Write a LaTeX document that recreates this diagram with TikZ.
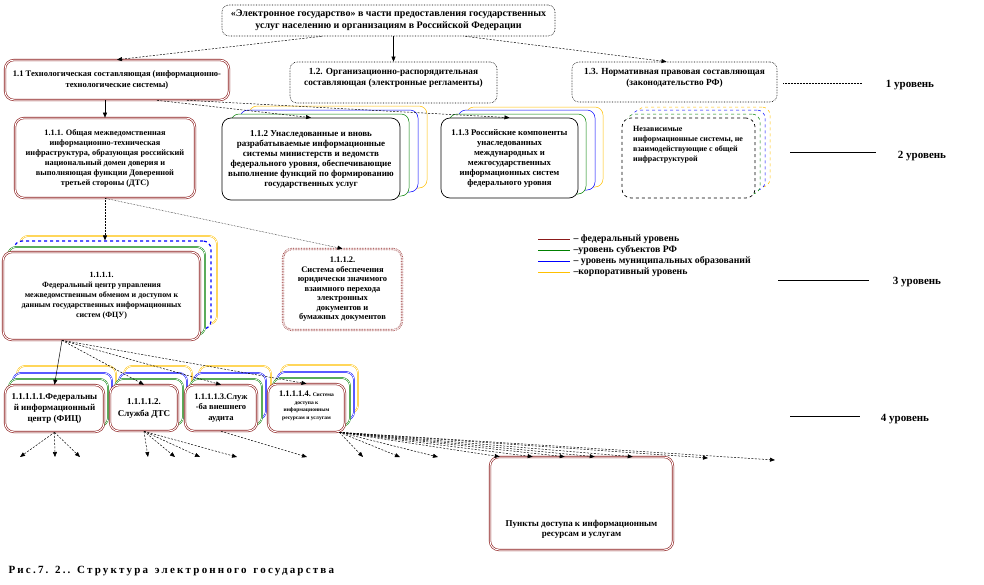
\documentclass[tikz,border=0pt]{standalone}
\usepackage{fontspec}
\setmainfont{Liberation Serif}
\usetikzlibrary{positioning,arrows.meta,calc}
\definecolor{levelred}{HTML}{8B1A1A}
\definecolor{levelgreen}{HTML}{008000}
\definecolor{levelblue}{HTML}{0000FF}
\definecolor{levelyellow}{HTML}{FFC000}

\begin{document}
\begin{tikzpicture}[
  x=1pt, y=-1pt,
  >={Triangle[length=5pt,width=4pt]},
  boxtext/.style={align=center, font=\fontsize{8}{10}\selectfont\bfseries},
  bigtext/.style={align=center, font=\fontsize{9}{10}\selectfont\bfseries},
  dotbox/.style={draw, densely dotted, rounded corners=7pt, line width=0.6pt, inner sep=2pt},
  redbox/.style={draw=levelred, double=white, double distance=1pt, line width=0.6pt, rounded corners=9pt, fill=white, inner sep=2pt},
  blackbox/.style={draw, line width=0.7pt, rounded corners=9pt, fill=white, inner sep=2pt},
  layer/.style={rounded corners=8pt, fill=white, line width=0.5pt},
  greenlayer/.style={layer, draw=levelgreen},
  bluelayer/.style={layer, draw=levelblue},
  yellowlayer/.style={layer, draw=levelyellow},
  link/.style={->, line width=0.5pt},
  dlink/.style={->, line width=0.5pt, dash pattern=on 2pt off 1.5pt},
  level/.style={font=\fontsize{11}{13}\selectfont\bfseries},
  legendtext/.style={anchor=west, font=\fontsize{9.8}{10}\selectfont\bfseries}
]
  \useasboundingbox (0,0) rectangle (984,584);

  % level 1
  \node[dotbox, align=center, font=\fontsize{10}{11.5}\selectfont\bfseries, minimum width=333pt, minimum height=31pt] (egov) at (388.5,20.5) {«Электронное государство» в части предоставления государственных\\ услуг населению и организациям в Российской Федерации};
  \node[redbox, boxtext, font=\fontsize{8.5}{11}\selectfont\bfseries, minimum width=224pt, minimum height=40pt] (tech) at (117,80) {1.1 Технологическая составляющая (информационно-\\ технологические системы)};
  \node[dotbox, minimum width=207pt, minimum height=41pt, label={[boxtext, font=\fontsize{9.3}{11.5}\selectfont\bfseries, anchor=north, yshift=-3pt]north:{1.2. Организационно-распорядительная\\ составляющая (электронные регламенты)}}] (org) at (393.5,82.5) {};
  \node[dotbox, minimum width=205pt, minimum height=40pt, label={[boxtext, font=\fontsize{9.3}{11.5}\selectfont\bfseries, anchor=north, yshift=-3pt]north:{1.3. Нормативная правовая составляющая\\ (законодательство РФ)}}] (norm) at (674.5,82) {};

  % level 2
  \node[redbox, boxtext, font=\fontsize{8.3}{10}\selectfont\bfseries, minimum width=180pt, minimum height=80pt] (infra) at (105,158) {1.1.1. Общая межведомственная\\ информационно-техническая\\ инфраструктура, образующая российский\\ национальный домен доверия и\\ выполняющая функции Доверенной\\ третьей стороны (ДТС)};

  \node[yellowlayer, minimum width=178pt, minimum height=82pt, xshift=27pt, yshift=12pt] (legy) at (311,159) {};
  \node[bluelayer, minimum width=178pt, minimum height=82pt, xshift=18pt, yshift=8pt] (legb) at (311,159) {};
  \node[greenlayer, minimum width=178pt, minimum height=82pt, xshift=9pt, yshift=4pt] (legg) at (311,159) {};
  \node[blackbox, bigtext, minimum width=178pt, minimum height=82pt] (legacy) at (311,159) {1.1.2 Унаследованные и вновь\\ разрабатываемые информационные\\ системы министерств и ведомств\\ федерального уровня, обеспечивающие\\ выполнение функций по формированию\\ государственных услуг};

  \node[yellowlayer, minimum width=137pt, minimum height=80pt, xshift=25pt, yshift=11pt] (intly) at (509.5,158) {};
  \node[bluelayer, minimum width=137pt, minimum height=80pt, xshift=17pt, yshift=8pt] (intlb) at (509.5,158) {};
  \node[greenlayer, minimum width=137pt, minimum height=80pt, xshift=8pt, yshift=4pt] (intlg) at (509.5,158) {};
  \node[blackbox, bigtext, font=\fontsize{8.7}{10}\selectfont\bfseries, minimum width=137pt, minimum height=80pt] (intl) at (509.5,158) {1.1.3 Российские компоненты\\ унаследованных\\ международных и\\ межгосударственных\\ информационных систем\\ федерального уровня};

  \node[yellowlayer, dashed, minimum width=133pt, minimum height=80pt, xshift=15pt, yshift=11pt] (indy) at (688.5,158) {};
  \node[bluelayer, dashed, minimum width=133pt, minimum height=80pt, xshift=10pt, yshift=8pt] (indb) at (688.5,158) {};
  \node[greenlayer, dashed, minimum width=133pt, minimum height=80pt, xshift=5pt, yshift=4pt] (indg) at (688.5,158) {};
  \node[blackbox, dashed, minimum width=133pt, minimum height=80pt, label={[boxtext, align=left, anchor=north west, xshift=8pt, yshift=-5pt]north west:{Независимые\\ информационные системы, не\\ взаимодействующие с общей\\ инфраструктурой}}] (indep) at (688.5,158) {};

  % level 3
  \node[yellowlayer, double, minimum width=197pt, minimum height=88pt, xshift=17pt, yshift=16pt] (fcuy) at (101.5,296) {};
  \node[bluelayer, dashed, line width=1.2pt, minimum width=197pt, minimum height=88pt, xshift=11pt, yshift=11pt] (fcub) at (101.5,296) {};
  \node[greenlayer, double, minimum width=197pt, minimum height=88pt, xshift=5pt, yshift=5pt] (fcug) at (101.5,296) {};
  \node[redbox, boxtext, minimum width=197pt, minimum height=88pt] (fcu) at (101.5,296) {1.1.1.1.\\ Федеральный центр управления\\ межведомственным обменом и доступом к\\ данным государственных информационных\\ систем (ФЦУ)};

  \node[redbox, densely dotted, align=center, font=\fontsize{8.5}{9.5}\selectfont\bfseries, minimum width=119pt, minimum height=81pt] (trans) at (342.5,289.5) {1.1.1.2.\\ Система обеспечения\\ юридически значимого\\ взаимного перехода\\ электронных\\ документов и\\ бумажных документов};

  % level 4
  \node[yellowlayer, double, minimum width=99pt, minimum height=47pt, xshift=12pt, yshift=19pt] (ficy) at (54.5,408.5) {};
  \node[bluelayer, double, minimum width=99pt, minimum height=47pt, xshift=8pt, yshift=12pt] (ficb) at (54.5,408.5) {};
  \node[greenlayer, double, minimum width=99pt, minimum height=47pt, xshift=4pt, yshift=6pt] (ficg) at (54.5,408.5) {};
  \node[redbox, bigtext, font=\fontsize{9}{11}\selectfont\bfseries, minimum width=99pt, minimum height=47pt] (fic) at (54.5,408.5) {1.1.1.1.1.Федеральны\\ й информационный\\ центр (ФИЦ)};

  \node[yellowlayer, double, minimum width=68pt, minimum height=46pt, xshift=14pt, yshift=19pt] (dtsy) at (144,408) {};
  \node[bluelayer, double, minimum width=68pt, minimum height=46pt, xshift=9pt, yshift=12pt] (dtsb) at (144,408) {};
  \node[greenlayer, double, minimum width=68pt, minimum height=46pt, xshift=5pt, yshift=6pt] (dtsg) at (144,408) {};
  \node[redbox, bigtext, font=\fontsize{9}{12}\selectfont\bfseries, minimum width=68pt, minimum height=46pt] (dts) at (144,408) {1.1.1.1.2.\\ Служба ДТС};

  \node[yellowlayer, double, minimum width=72pt, minimum height=46pt, xshift=14pt, yshift=19pt] (audy) at (221,408) {};
  \node[bluelayer, double, minimum width=72pt, minimum height=46pt, xshift=9pt, yshift=12pt] (audb) at (221,408) {};
  \node[greenlayer, double, minimum width=72pt, minimum height=46pt, xshift=5pt, yshift=6pt] (audg) at (221,408) {};
  \node[redbox, bigtext, font=\fontsize{8.5}{10.5}\selectfont\bfseries, minimum width=72pt, minimum height=46pt] (aud) at (221,408) {1.1.1.1.3.Служ\\ -ба внешнего\\ аудита};

  \node[yellowlayer, double, minimum width=77pt, minimum height=48pt, xshift=13pt, yshift=19pt] (accsy) at (306.5,408) {};
  \node[bluelayer, double, minimum width=77pt, minimum height=48pt, xshift=9pt, yshift=12pt] (accsb) at (306.5,408) {};
  \node[greenlayer, double, minimum width=77pt, minimum height=48pt, xshift=5pt, yshift=6pt] (accsg) at (306.5,408) {};
  \node[redbox, minimum width=77pt, minimum height=48pt, label={[align=center, font=\fontsize{5.5}{7.5}\selectfont\bfseries, anchor=north, yshift=-4pt]north:{{\fontsize{8.5}{9}\selectfont 1.1.1.1.4.} Система\\ доступа к\\ информационным\\ ресурсам и услугам}}] (accs) at (306.5,408) {};

  \node[redbox, minimum width=183pt, minimum height=93pt, label={[bigtext, anchor=south, yshift=8pt]south:{Пункты доступа к информационным\\ ресурсам и услугам}}] (points) at (581.5,503.5) {};

  % levels
  \node[level] (lev1) at (910,85) {1 уровень};
  \node[level] (lev2) at (922,156) {2 уровень};
  \node[level] (lev3) at (917,282) {3 уровень};
  \node[level] (lev4) at (905,419) {4 уровень};
  \coordinate (lev1a) at (783,83);
  \coordinate (lev2a) at (790,152);
  \coordinate (lev3a) at (778,280);
  \coordinate (lev4a) at (790,416);
  \draw[densely dotted, line width=0.5pt] (lev1a) -- ([xshift=-20pt]lev1.west |- lev1a);
  \draw[line width=0.5pt] (lev2a) -- ([xshift=-18pt]lev2.west |- lev2a);
  \draw[line width=0.5pt] (lev3a) -- ([xshift=-20pt]lev3.west |- lev3a);
  \draw[line width=0.5pt] (lev4a) -- ([xshift=-17pt]lev4.west |- lev4a);

  % legend
  \node[legendtext] (fedl) at (570,239) {– федеральный уровень};
  \node[legendtext] (subl) at (570,250) {–уровень субъектов РФ};
  \node[legendtext] (munl) at (570,261) {– уровень муниципальных образований};
  \node[legendtext] (corl) at (570,272) {–корпоративный уровень};
  \draw[levelred, line width=0.6pt] (538,239) -- (fedl.west);
  \draw[levelgreen, line width=0.6pt] (538,250) -- (subl.west);
  \draw[levelblue, line width=0.6pt] (538,261) -- (munl.west);
  \draw[levelyellow, line width=0.6pt] (538,272) -- (corl.west);

  % caption
  \node[anchor=west, font=\fontsize{11}{12}\selectfont\bfseries\addfontfeature{LetterSpace=20}] (caption) at (5,571) {Рис.7. 2.. Структура\, электронного\, государства};

  % links level 1-2
  \draw[link] (egov.south -| org.north) -- (org.north);
  \draw[dlink] ($(egov.south west)+(100,0)$) -- (tech.north);
  \draw[dlink] ($(egov.south east)+(-90,0)$) -- ($(norm.north)+(-8,0)$);
  \draw[link] (infra.north |- tech.south) -- (infra.north);
  \draw[dlink] ($(tech.south)+(40,0)$) -- (legacy.north);
  \draw[dlink] ($(tech.south)+(70,0)$) -- (intl.north);

  % links level 2-3
  \draw[dlink, densely dotted] (infra.south) -- (infra.south |- fcub.north);
  \draw[dlink, densely dotted] (infra.south) -- (trans.north);

  % links level 3-4
  \coordinate (fcuout) at ($(fcu.south west)!0.3!(fcu.south east)$);
  \draw[link] (fcuout) -- (fic.north);
  \draw[dlink] (fcuout) -- (dts.north);
  \draw[dlink] (fcuout) -- (aud.north);
  \draw[dlink] (fcuout) -- (accs.north);

  % access points
  \coordinate (pa1) at (20,457);
  \coordinate (pa2) at (55,457);
  \coordinate (pa3) at (80,457);
  \coordinate (pb1) at (148,457);
  \coordinate (pb2) at (175,457);
  \coordinate (pb3) at (200,457);
  \coordinate (pb4) at (237,457);
  \coordinate (pc1) at (307,457);
  \coordinate (pd1) at (363,457);
  \coordinate (pd2) at (400,457);
  \coordinate (pd3) at (438,457);
  \coordinate (pd4) at (708,458);
  \coordinate (pd5) at (775,460);
  \coordinate (accsout) at ($(accs.south east)+(-6,0)$);
  \draw[dlink] (fic.south) -- (pa1);
  \draw[dlink] (fic.south) -- (pa2);
  \draw[dlink] (fic.south) -- (pa3);
  \draw[dlink] (dts.south) -- (pb1);
  \draw[dlink] (dts.south) -- (pb2);
  \draw[dlink] (dts.south) -- (pb3);
  \draw[dlink] (dts.south) -- (pb4);
  \draw[dlink] (aud.south) -- (pc1);
  \draw[dlink] (accsout) -- (pd1);
  \draw[dlink] (accsout) -- (pd2);
  \draw[dlink] (accsout) -- (pd3);
  \draw[dlink] (accsout) -- ($(points.north west)+(10,0)$);
  \draw[dlink] (accsout) -- ($(points.north west)+(43,0)$);
  \draw[dlink] (accsout) -- ($(points.north west)+(75,0)$);
  \draw[dlink] (accsout) -- ($(points.north west)+(105,0)$);
  \draw[dlink] (accsout) -- ($(points.north west)+(143,0)$);
  \draw[dlink] (accsout) -- (pd4);
  \draw[dlink] (accsout) -- (pd5);
\end{tikzpicture}
\end{document}
